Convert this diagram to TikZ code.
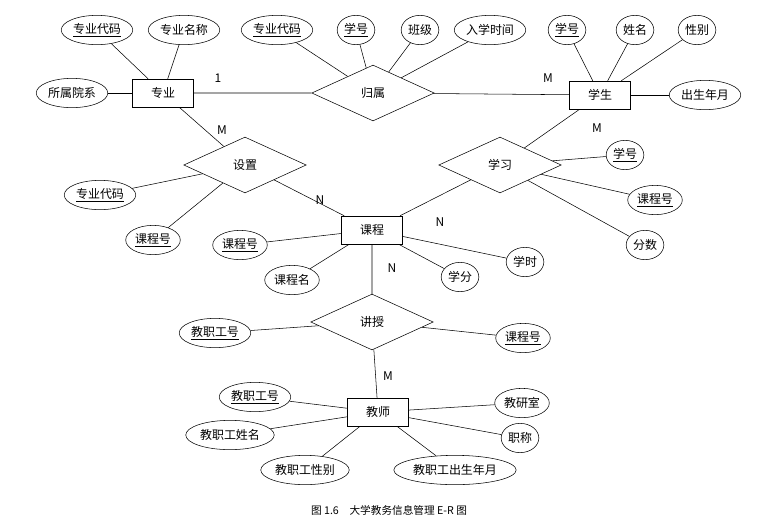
\documentclass[tikz,border=0pt]{standalone}
\usepackage{fontspec}
\setmainfont{Noto Sans CJK SC}
\usetikzlibrary{shapes.geometric}
\begin{document}
\begin{tikzpicture}[x=0.0264cm,y=-0.0264cm,font=\small,
 ent/.style={draw,minimum width=46pt,minimum height=21pt,inner sep=1pt},
 rel/.style={draw,diamond,aspect=2.3,minimum width=92pt,minimum height=42pt,inner sep=0pt},
 att/.style={draw,ellipse,minimum height=22pt,inner sep=1pt},
 key/.style={att},
 lab/.style={font=\small}]
\useasboundingbox (0,0) rectangle (779,530);
\node[ent] (zy) at (163,93) {专业};
\node[ent] (xs) at (600,95) {学生};
\node[ent] (kc) at (372,230) {课程};
\node[ent] (js) at (378,412) {教师};
\node[rel] (gs) at (373,93) {归属};
\node[rel] (sz) at (245,165) {设置};
\node[rel] (xx) at (500,165) {学习};
\node[rel] (jsh) at (372,322) {讲授};
% attributes
\node[key] (a1) at (97,30) {\underline{专业代码}};
\node[att] (a2) at (184,30) {专业名称};
\node[att] (a3) at (72,93) {所属院系};
\node[key] (b1) at (277,30) {\underline{专业代码}};
\node[key] (b2) at (356,30) {\underline{学号}};
\node[att] (b3) at (420,30) {班级};
\node[att] (b4) at (490,30) {入学时间};
\node[key] (c1) at (567,30) {\underline{学号}};
\node[att] (c2) at (635,30) {姓名};
\node[att] (c3) at (697,30) {性别};
\node[att] (c4) at (705,95) {出生年月};
\node[key] (d1) at (100,195) {\underline{专业代码}};
\node[key] (d2) at (153,240) {\underline{课程号}};
\node[key] (e1) at (625,155) {\underline{学号}};
\node[key] (e2) at (655,200) {\underline{课程号}};
\node[att] (e3) at (645,245) {分数};
\node[key] (f1) at (240,245) {\underline{课程号}};
\node[att] (f2) at (292,280) {课程名};
\node[att] (f3) at (460,277) {学分};
\node[att] (f4) at (525,262) {学时};
\node[key] (g1) at (215,333) {\underline{教职工号}};
\node[key] (g2) at (523,338) {\underline{课程号}};
\node[key] (h1) at (255,397) {\underline{教职工号}};
\node[att] (h2) at (230,435) {教职工姓名};
\node[att] (h3) at (305,470) {教职工性别};
\node[att] (h4) at (455,470) {教职工出生年月};
\node[att] (h5) at (522,403) {教研室};
\node[att] (h6) at (520,438) {职称};
% connectors
\draw (zy)--(gs) (gs)--(xs) (zy)--(sz) (sz)--(kc) (xs)--(xx) (xx)--(kc) (kc)--(jsh) (jsh)--(js);
\foreach \a in {a1,a2,a3} \draw (zy)--(\a);
\foreach \a in {b1,b2,b3,b4} \draw (gs)--(\a);
\foreach \a in {c1,c2,c3,c4} \draw (xs)--(\a);
\foreach \a in {d1,d2} \draw (sz)--(\a);
\foreach \a in {e1,e2,e3} \draw (xx)--(\a);
\foreach \a in {f1,f2,f3,f4} \draw (kc)--(\a);
\foreach \a in {g1,g2} \draw (jsh)--(\a);
\foreach \a in {h1,h2,h3,h4,h5,h6} \draw (js)--(\a);
% cardinalities
\node[lab] (l1) at (218,78) {1};
\node[lab] (l2) at (548,78) {M};
\node[lab] (l3) at (222,130) {M};
\node[lab] (l4) at (320,200) {N};
\node[lab] (l5) at (597,128) {M};
\node[lab] (l6) at (440,222) {N};
\node[lab] (l7) at (392,268) {N};
\node[lab] (l8) at (388,376) {M};
\node[font=\footnotesize] (cap) at (389,510) {图 1.6\quad 大学教务信息管理 E-R 图};
\end{tikzpicture}
\end{document}
